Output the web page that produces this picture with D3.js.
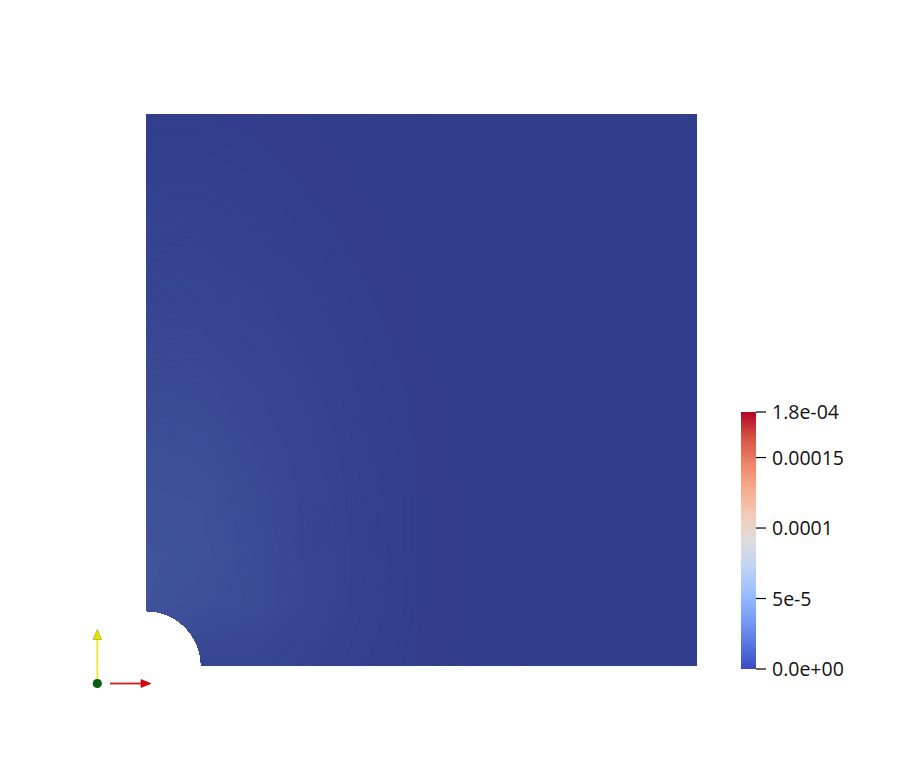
<!DOCTYPE html>
<html>
<head>
<meta charset="utf-8">
<script src="https://cdn.jsdelivr.net/npm/d3@7"></script>
<style>
  html, body { margin: 0; padding: 0; background: #ffffff; }
  svg { display: block; }
</style>
</head>
<body>
<svg id="chart" width="902" height="781"></svg>
<script>
// ---------------- data ----------------
// grid sample positions (plate coordinates, 0..1)
const gridX = [0, 0.1, 0.2, 0.3, 0.4, 0.5, 0.6, 0.7, 0.8, 0.9, 1.0];
const gridY = [1.0, 0.9, 0.8, 0.7, 0.6, 0.5, 0.4, 0.3, 0.2, 0.1, 0.0]; // top row first
// field values (units of 1e-6), rows from top (y=1) to bottom (y=0)
const fieldRows = [
  [2.0, 2.0, 1.8, 1.6, 1.4, 1.2, 1.1, 1.04, 1.02, 1.01, 1.0],
  [2.6, 2.6, 2.3, 1.8, 1.5, 1.3, 1.14, 1.06, 1.03, 1.01, 1.0],
  [3.6, 3.5, 2.9, 2.2, 1.7, 1.4, 1.18, 1.08, 1.03, 1.01, 1.0],
  [4.9, 4.7, 3.8, 2.8, 2.0, 1.5, 1.23, 1.10, 1.04, 1.01, 1.0],
  [6.6, 6.3, 5.0, 3.4, 2.3, 1.6, 1.29, 1.12, 1.05, 1.02, 1.01],
  [8.6, 8.2, 6.3, 4.2, 2.6, 1.8, 1.34, 1.14, 1.06, 1.02, 1.01],
  [10.5, 10.0, 7.6, 4.9, 2.9, 1.9, 1.39, 1.16, 1.07, 1.02, 1.01],
  [12.0, 11.5, 8.6, 5.4, 3.2, 2.0, 1.43, 1.17, 1.07, 1.03, 1.01],
  [12.8, 12.2, 9.1, 5.7, 3.3, 2.0, 1.44, 1.18, 1.07, 1.03, 1.01],
  [12.6, 10.5, 9.0, 5.6, 3.2, 2.0, 1.44, 1.18, 1.07, 1.03, 1.01],
  [8.0, 6.0, 5.5, 4.2, 2.8, 1.9, 1.40, 1.17, 1.07, 1.03, 1.01]
];
const holeRadius = 0.1;          // plate units
const valueUnit = 1e-6;
const rangeMin = 0;
const rangeMax = 1.823e-4;

// colour map (Cool to Warm)
const coolwarmPos = [0, 0.1, 0.2, 0.3, 0.4, 0.5, 0.6, 0.7, 0.8, 0.9, 1.0];
const coolwarmColors = ["#3b4cc0","#5977e3","#7b9ff9","#9ebeff","#c0d4f5","#dddcdc",
                        "#f2cbb7","#f7ac8e","#ee8468","#d65244","#b40426"];

// colour bar ticks
const tickLabels = ["0.0e+00", "5e-5", "0.0001", "0.00015", "1.8e-04"];
const tickLabelAt = [0, 5e-5, 1e-4, 1.5e-4, 1.823e-4];

// ---------------- drawing ----------------
const svg = d3.select("#chart");

const x = d3.scaleLinear().domain([0, 1]).range([146, 697]);
const y = d3.scaleLinear().domain([0, 1]).range([666, 114]);

const color = d3.scaleLinear()
  .domain(coolwarmPos.map(p => rangeMin + p * (rangeMax - rangeMin)))
  .range(coolwarmColors)
  .interpolate(d3.interpolateRgb)
  .clamp(true);

// lighting used by the 3-D render of the plate
const lightMul = [0.80, 0.78, 0.72];
function shade(c) {
  const r = d3.rgb(c);
  return d3.rgb(r.r * lightMul[0], r.g * lightMul[1], r.b * lightMul[2]).formatHex();
}

// clip: square with quarter-circle hole at bottom-left
const hr = x(holeRadius) - x(0);
const clipD = `M${x(holeRadius)},${y(0)} H${x(1)} V${y(1)} H${x(0)} V${y(0) - hr} ` +
              `A${hr},${hr} 0 0,1 ${x(holeRadius)},${y(0)} Z`;
svg.append("defs").append("clipPath").attr("id", "plateClip")
  .append("path").attr("d", clipD);

const plate = svg.append("g").attr("clip-path", "url(#plateClip)");

const values = fieldRows.flat();
const nx = gridX.length, ny = gridY.length;
const gx = d3.scaleLinear().domain([0.5, nx - 0.5]).range([x(gridX[0]), x(gridX[nx - 1])]);
const gy = d3.scaleLinear().domain([0.5, ny - 0.5]).range([y(gridY[0]), y(gridY[ny - 1])]);

const vMin = d3.min(values), vMax = d3.max(values);
const step = 0.2;
const thresholds = d3.range(Math.floor(vMin / step) * step, vMax, step);

plate.append("rect")
  .attr("x", x(0)).attr("y", y(1))
  .attr("width", x(1) - x(0)).attr("height", y(0) - y(1))
  .attr("fill", shade(color(vMin * valueUnit)));

const contours = d3.contours().size([nx, ny]).thresholds(thresholds)(values);
const proj = d3.geoTransform({ point(px, py) { this.stream.point(gx(px), gy(py)); } });
const path = d3.geoPath(proj);

plate.selectAll("path.band")
  .data(contours)
  .join("path")
  .attr("class", "band")
  .attr("d", path)
  .attr("fill", d => shade(color((d.value + step / 2) * valueUnit)))
  .attr("stroke", d => shade(color((d.value + step / 2) * valueUnit)))
  .attr("stroke-width", 0.5);

// ---------------- colour bar ----------------
const barX = 741, barW = 15;
const cb = d3.scaleLinear().domain([rangeMin, rangeMax]).range([669, 412]);

const grad = svg.select("defs").append("linearGradient")
  .attr("id", "cbGrad").attr("x1", 0).attr("y1", 1).attr("x2", 0).attr("y2", 0);
grad.selectAll("stop").data(coolwarmPos).join("stop")
  .attr("offset", d => d)
  .attr("stop-color", (d, i) => coolwarmColors[i]);

svg.append("rect")
  .attr("x", barX).attr("y", cb(rangeMax))
  .attr("width", barW).attr("height", cb(rangeMin) - cb(rangeMax))
  .attr("fill", "url(#cbGrad)");

const ticks = svg.append("g");
ticks.selectAll("line").data(tickLabelAt).join("line")
  .attr("x1", barX + barW).attr("x2", barX + barW + 10)
  .attr("y1", d => cb(d)).attr("y2", d => cb(d))
  .attr("stroke", "#000").attr("stroke-width", 1.2);
ticks.selectAll("text").data(tickLabelAt).join("text")
  .attr("x", 772)
  .attr("y", d => cb(d))
  .attr("dy", "0.36em")
  .attr("font-family", "'Open Sans', 'DejaVu Sans', sans-serif")
  .attr("font-size", 19.5)
  .attr("fill", "#111")
  .text((d, i) => tickLabels[i]);

// ---------------- orientation axes glyph ----------------
const ax = svg.append("g");
const ox = 97.3, oy = 683.5;
// Y axis (yellow)
ax.append("line").attr("x1", ox).attr("y1", oy).attr("x2", ox).attr("y2", 639)
  .attr("stroke", "#e8e800").attr("stroke-width", 1.5);
ax.append("path").attr("d", `M${ox},629.5 L${ox + 4.2},639.5 L${ox - 4.2},639.5 Z`)
  .attr("fill", "#e6e600").attr("stroke", "#9a9a00").attr("stroke-width", 0.6);
// X axis (red)
ax.append("line").attr("x1", 110).attr("y1", oy).attr("x2", 142).attr("y2", oy)
  .attr("stroke", "#d61a1a").attr("stroke-width", 1.8);
ax.append("path").attr("d", `M151,${oy} L141,${oy - 4} L141,${oy + 4} Z`)
  .attr("fill", "#dd0000").attr("stroke", "#aa0000").attr("stroke-width", 0.6);
// origin (green sphere)
ax.append("circle").attr("cx", ox).attr("cy", oy).attr("r", 4.6)
  .attr("fill", "#0b5a12");
</script>
</body>
</html>
